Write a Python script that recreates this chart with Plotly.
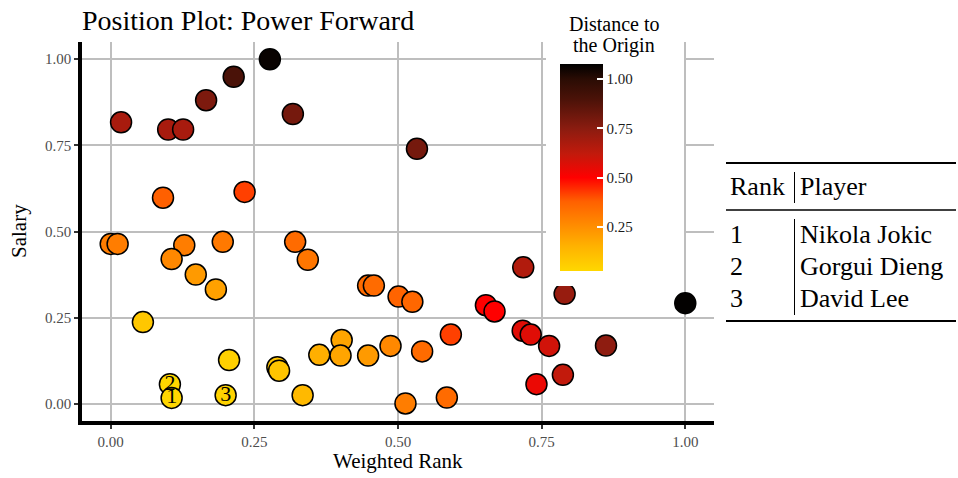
import plotly.graph_objects as go

# weighted rank (x), salary (y), distance to origin (colour)
weighted_rank = [0.018, 0.100, 0.126, 0.166, 0.214, 0.277, 0.317, 0.091, 0.233, 0.533,
                 0.000, 0.012, 0.128, 0.106, 0.195, 0.148, 0.183, 0.056, 0.206, 0.103,
                 0.106, 0.200, 0.321, 0.343, 0.290, 0.293, 0.334, 0.363, 0.402, 0.400,
                 0.448, 0.448, 0.458, 0.501, 0.525, 0.653, 0.668, 0.718, 0.717, 0.731,
                 0.741, 0.763, 0.787, 0.862, 0.790, 1.000, 0.592, 0.542, 0.487, 0.513,
                 0.585]
salary = [0.817, 0.796, 0.796, 0.881, 0.949, 1.000, 0.841, 0.598, 0.615, 0.740,
          0.464, 0.464, 0.460, 0.420, 0.470, 0.375, 0.332, 0.237, 0.127, 0.057,
          0.017, 0.025, 0.470, 0.418, 0.106, 0.096, 0.025, 0.142, 0.185, 0.140,
          0.140, 0.343, 0.343, 0.311, 0.296, 0.286, 0.268, 0.396, 0.212, 0.201,
          0.057, 0.168, 0.084, 0.169, 0.319, 0.292, 0.201, 0.152, 0.168, 0.001,
          0.018]
distance = [0.68, 0.68, 0.68, 0.78, 0.90, 1.06, 0.80, 0.38, 0.42, 0.80,
            0.30, 0.30, 0.30, 0.27, 0.31, 0.22, 0.20, 0.08, 0.05, 0.03,
            0.03, 0.04, 0.35, 0.32, 0.09, 0.09, 0.13, 0.16, 0.19, 0.19,
            0.22, 0.35, 0.35, 0.37, 0.36, 0.50, 0.50, 0.66, 0.56, 0.56,
            0.54, 0.59, 0.62, 0.74, 0.72, 1.07, 0.42, 0.35, 0.27, 0.30,
            0.35]

# top three players labelled on the plot
top_rank = ["1", "2", "3"]
top_player = ["Nikola Jokic", "Gorgui Dieng", "David Lee"]
top_x = [0.106, 0.103, 0.200]
top_y = [0.017, 0.057, 0.025]

ticks = [0.0, 0.25, 0.5, 0.75, 1.0]
tick_text = ["0.00", "0.25", "0.50", "0.75", "1.00"]
cbar_ticks = [0.25, 0.5, 0.75, 1.0]
cbar_text = ["0.25", "0.50", "0.75", "1.00"]

cmin, cmax = 0.027, 1.076
stops = [(0.027, "#FFD700"), (0.15, "#FFB300"), (0.25, "#FF8F00"), (0.38, "#FF6000"),
         (0.50, "#FF0000"), (0.62, "#C21A0C"), (0.75, "#8A1C10"), (0.90, "#4A1208"),
         (1.00, "#2A0C04"), (1.076, "#000000")]
colorscale = [[(v - cmin) / (cmax - cmin), c] for v, c in stops]

FONT = "Liberation Serif"
W, H = 958, 478
L, R, T, B = 82, 244, 42, 57
pw, ph = W - L - R, H - T - B


def px(x):
    return (x - L) / pw


def py(y):
    return (H - B - y) / ph


def note(text, x, y, size, xanchor="left", **kw):
    return dict(text=text, xref="paper", yref="paper", x=px(x), y=py(y),
                xanchor=xanchor, yanchor="middle", showarrow=False,
                font=dict(family=FONT, size=size, color="black"), **kw)


fig = go.Figure()
fig.add_trace(go.Scatter(
    x=weighted_rank, y=salary, mode="markers",
    marker=dict(size=21, color=distance, cmin=cmin, cmax=cmax, colorscale=colorscale,
                line=dict(color="black", width=1.5),
                colorbar=dict(x=px(560), xanchor="left", y=py(167.5), yanchor="middle",
                              thickness=43, thicknessmode="pixels", len=207, lenmode="pixels",
                              tickvals=cbar_ticks, ticktext=cbar_text, ticks="inside",
                              ticklen=6, tickcolor="white", tickwidth=1.5, outlinewidth=0,
                              xpad=0, ypad=0,
                              tickfont=dict(family=FONT, size=15, color="#1a1a1a"))),
    showlegend=False, hoverinfo="skip"))

# rank numbers on top of the points
fig.add_trace(go.Scatter(
    x=top_x, y=top_y, mode="text", text=top_rank,
    textfont=dict(family=FONT, size=22, color="black"),
    showlegend=False, hoverinfo="skip"))

shapes = [
    # white legend background covering the grid
    dict(type="rect", xref="paper", yref="paper", x0=px(546), x1=px(684), y0=py(286), y1=py(0),
         fillcolor="white", line=dict(width=0), layer="above"),
    # table rules
    dict(type="line", xref="paper", yref="paper", x0=px(726), x1=px(956), y0=py(163), y1=py(163),
         line=dict(color="black", width=2)),
    dict(type="line", xref="paper", yref="paper", x0=px(726), x1=px(956), y0=py(210), y1=py(210),
         line=dict(color="black", width=1.3)),
    dict(type="line", xref="paper", yref="paper", x0=px(726), x1=px(956), y0=py(321), y1=py(321),
         line=dict(color="black", width=2)),
    dict(type="line", xref="paper", yref="paper", x0=px(794.5), x1=px(794.5), y0=py(172), y1=py(203),
         line=dict(color="black", width=1)),
    dict(type="line", xref="paper", yref="paper", x0=px(794.5), x1=px(794.5), y0=py(219), y1=py(315),
         line=dict(color="black", width=1)),
]

annotations = [
    note("Distance to", 614, 24, 20, xanchor="center"),
    note("the Origin", 614, 45, 20, xanchor="center"),
    note("Weighted Rank", 398, 461, 21, xanchor="center"),
    note("Salary", 19, 231, 21, xanchor="center", textangle=-90),
    note("Rank", 728, 187, 26),
    note("Player", 798, 187, 26),
]
for i, (rk, name) in enumerate(zip(top_rank, top_player)):
    yy = 234 + 32 * i
    annotations.append(note(rk, 728, yy, 26))
    annotations.append(note(name, 798, yy, 26))

axis_common = dict(range=[-0.05, 1.05], tickvals=ticks, ticktext=tick_text, automargin=False,
                   showgrid=True, gridcolor="#BEBEBE", gridwidth=2, zeroline=False,
                   showline=True, linecolor="black", linewidth=3.5,
                   ticks="outside", ticklen=4, tickcolor="#333333", tickwidth=1.5,
                   tickfont=dict(family=FONT, size=15, color="#4d4d4d"))

fig.update_layout(
    width=W, height=H, margin=dict(l=L, r=R, t=T, b=B),
    paper_bgcolor="white", plot_bgcolor="white",
    title=dict(text="Position Plot: Power Forward", x=0, xref="paper", xanchor="left",
               y=1 - 20 / H, yanchor="middle", font=dict(family=FONT, size=28, color="black")),
    xaxis=axis_common,
    yaxis=axis_common,
    shapes=shapes, annotations=annotations,
)

# drop the default page margin so the figure sits at the window's corner
fig.write_html("out.html", config={"displayModeBar": False},
               post_script="document.body.style.margin='0';")
